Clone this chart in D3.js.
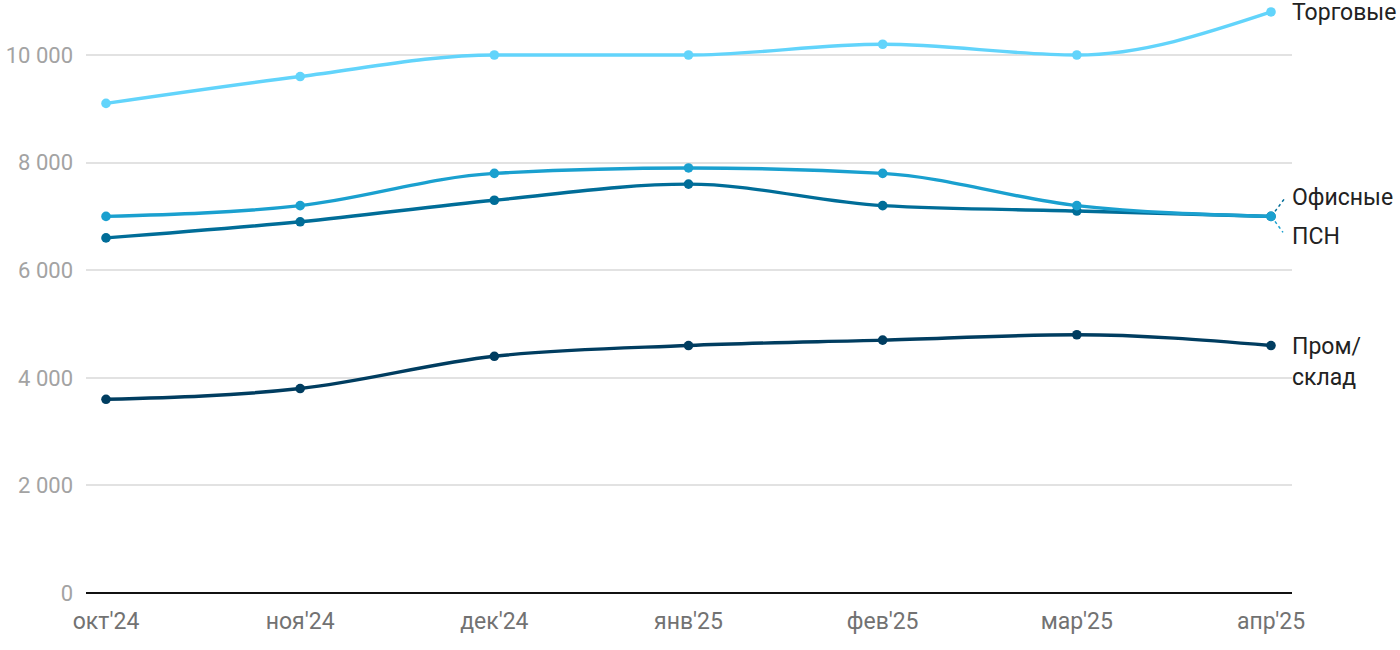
<!DOCTYPE html>
<html lang="en">
<head>
    <meta charset="UTF-8">
    <title>Ставки по сегментам</title>
    <script src="https://d3js.org/d3.v7.min.js"></script>
    <style>
        body { margin: 0; background: #fff; font-family: Roboto, "Noto Sans", sans-serif; }
        .grid-line { stroke: #e2e2e2; stroke-width: 2px; shape-rendering: crispEdges; }
        .y-label { font-size: 22px; fill: #a3a3a3; text-anchor: end; }
        .x-label { font-size: 23px; fill: #727272; text-anchor: middle; }
        .series-line { fill: none; stroke-width: 3.4px; }
        .end-label { font-size: 23px; fill: #222; }
    </style>
</head>
<body>
<div id="chart"></div>
<script>
    // --- Data ---
    const months = ["окт'24", "ноя'24", "дек'24", "янв'25", "фев'25", "мар'25", "апр'25"];
    const yTicks = [0, 2000, 4000, 6000, 8000, 10000];

    const torgovye = [9100, 9600, 10000, 10000, 10200, 10000, 10800];
    const psn      = [7000, 7200, 7800, 7900, 7800, 7200, 7000];
    const ofisnye  = [6600, 6900, 7300, 7600, 7200, 7100, 7000];
    const promSklad = [3600, 3800, 4400, 4600, 4700, 4800, 4600];

    const series = [
        { name: "Торговые", values: torgovye, color: "#62d4fb" },
        { name: "ПСН", values: psn, color: "#1aa0cf" },
        { name: "Офисные", values: ofisnye, color: "#006d98" },
        { name: "Пром/склад", values: promSklad, color: "#003d60" }
    ];

    // --- Setup ---
    const W = 1400, H = 650;
    const svg = d3.select("#chart").append("svg").attr("width", W).attr("height", H);

    const gridLeft = 86, gridRight = 1292;
    const x = d3.scaleLinear().domain([0, months.length - 1]).range([106, 1271]);
    const y = d3.scaleLinear().domain([0, 10000]).range([593, 55]);

    // Grid lines
    svg.append("g").selectAll("line").data(yTicks.filter(d => d > 0)).join("line")
        .attr("class", "grid-line")
        .attr("x1", gridLeft).attr("x2", gridRight)
        .attr("y1", d => Math.round(y(d))).attr("y2", d => Math.round(y(d)));

    // Baseline
    svg.append("line")
        .attr("x1", gridLeft).attr("x2", gridRight)
        .attr("y1", y(0)).attr("y2", y(0))
        .attr("stroke", "#111").attr("stroke-width", 2);

    // Y labels
    const fmt = d => d === 0 ? "0" : d3.format(",")(d).replace(",", " ");
    svg.append("g").selectAll("text").data(yTicks).join("text")
        .attr("class", "y-label")
        .attr("x", 73).attr("y", d => y(d)).attr("dy", "0.35em")
        .text(fmt);

    // X labels
    svg.append("g").selectAll("text").data(months).join("text")
        .attr("class", "x-label")
        .attr("x", (d, i) => x(i)).attr("y", 629)
        .text(d => d);

    // Lines and dots
    const line = d3.line().x((d, i) => x(i)).y(d => y(d)).curve(d3.curveMonotoneX);

    series.slice().reverse().forEach(s => {
        svg.append("path").datum(s.values)
            .attr("class", "series-line")
            .attr("stroke", s.color)
            .attr("d", line);
        svg.append("g").selectAll("circle").data(s.values).join("circle")
            .attr("cx", (d, i) => x(i)).attr("cy", d => y(d))
            .attr("r", 4.8).attr("fill", s.color);
    });

    // End labels
    const last = months.length - 1;
    const lx = 1292;
    svg.append("text").attr("class", "end-label")
        .attr("x", lx).attr("y", y(torgovye[last])).attr("dy", "0.35em").text("Торговые");

    const yEnd = y(ofisnye[last]);
    svg.append("line").attr("x1", x(last) + 4).attr("y1", yEnd - 5).attr("x2", x(last) + 13).attr("y2", yEnd - 17)
        .attr("stroke", series[2].color).attr("stroke-width", 1.5).attr("stroke-dasharray", "3,3");
    svg.append("line").attr("x1", x(last) + 4).attr("y1", yEnd + 5).attr("x2", x(last) + 12).attr("y2", yEnd + 16)
        .attr("stroke", series[1].color).attr("stroke-width", 1.5).attr("stroke-dasharray", "3,3");
    svg.append("text").attr("class", "end-label")
        .attr("x", lx).attr("y", yEnd - 19).attr("dy", "0.35em").text("Офисные");
    svg.append("text").attr("class", "end-label")
        .attr("x", lx).attr("y", yEnd + 20).attr("dy", "0.35em").text("ПСН");

    const yProm = y(promSklad[last]);
    const promText = svg.append("text").attr("class", "end-label")
        .attr("x", lx).attr("y", yProm).attr("dy", "0.35em");
    promText.append("tspan").attr("x", lx).text("Пром/");
    promText.append("tspan").attr("x", lx).attr("dy", "1.35em").text("склад");
</script>
</body>
</html>
